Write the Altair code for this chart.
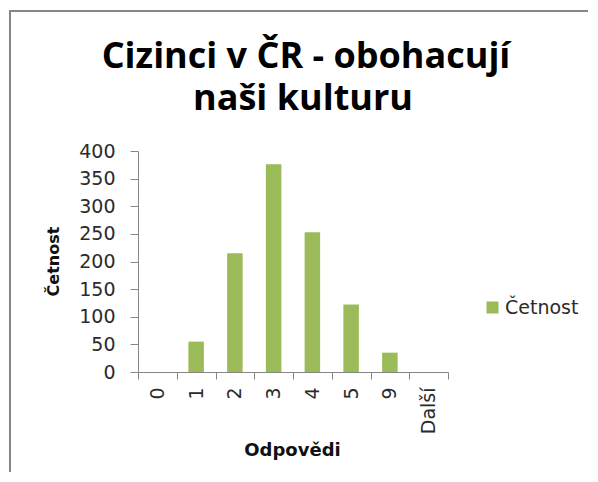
import altair as alt
import pandas as pd

categories = ["0", "1", "2", "3", "4", "5", "9", "Další"]
counts = [0, 55, 215, 376, 253, 122, 35, 0]
series_name = "Četnost"
y_ticks = [0, 50, 100, 150, 200, 250, 300, 350, 400]
title_lines = ["Cizinci v ČR - obohacují", "naši kulturu"]
x_title = "Odpovědi"
y_title = "Četnost"

df = pd.DataFrame({"odp": categories, "cetnost": counts, "series": [series_name] * len(categories)})

GRAY = "#868686"
TXT = "#2b2b2b"

bars = alt.Chart(df).mark_bar(width=alt.RelativeBandSize(0.4)).encode(
    x=alt.X("odp:N", sort=categories,
            scale=alt.Scale(paddingInner=0, paddingOuter=0),
            axis=alt.Axis(title=x_title, tickBand="extent", tickSize=7,
                          labelAngle=270, labelPadding=8,
                          labelFont="DejaVu Sans", labelFontSize=19, labelColor=TXT,
                          domainColor=GRAY, tickColor=GRAY,
                          titleFont="DejaVu Sans", titleFontSize=18, titleFontWeight="bold",
                          titleColor="#111111", titleX=154, titleY=78, titleBaseline="middle")),
    y=alt.Y("cetnost:Q", scale=alt.Scale(domain=[0, 400], nice=False),
            axis=alt.Axis(title=y_title, values=y_ticks, tickSize=8, labelPadding=15,
                          labelFont="DejaVu Sans", labelFontSize=19, labelColor=TXT,
                          domainColor=GRAY, tickColor=GRAY, grid=False,
                          titleFont="DejaVu Sans", titleFontSize=16, titleFontWeight="bold",
                          titleColor="#111111", titleAngle=270, titleX=-85, titleY=110,
                          titleBaseline="middle")),
    color=alt.Color("series:N", scale=alt.Scale(range=["#9BBB59"]),
                    legend=alt.Legend(title=None, orient="none", legendX=345, legendY=147,
                                      symbolType="square", symbolSize=144,
                                      symbolStrokeWidth=0, labelOffset=3,
                                      labelFont="DejaVu Sans", labelFontSize=19,
                                      labelColor=TXT, padding=0)),
)

one = pd.DataFrame({"a": [0]})
frame_v = alt.Chart(one).mark_rule(color=GRAY, strokeWidth=2).encode(
    x=alt.value(-128), y=alt.value(-140), y2=alt.value(330))
frame_h = alt.Chart(one).mark_rule(color=GRAY, strokeWidth=2).encode(
    x=alt.value(-129), x2=alt.value(460), y=alt.value(-140))

title1 = alt.Chart(one).mark_text(text=title_lines[0], font="Open Sans", fontSize=36,
                                  fontWeight="bold", color="#000000", align="center",
                                  baseline="alphabetic").encode(
    x=alt.value(168), y=alt.value(-83))
title2 = alt.Chart(one).mark_text(text=title_lines[1], font="Open Sans", fontSize=36,
                                  fontWeight="bold", color="#000000", align="center",
                                  baseline="alphabetic").encode(
    x=alt.value(165), y=alt.value(-41))

chart = alt.layer(bars, frame_v, frame_h, title1, title2).properties(
    width=310, height=221,
    autosize=alt.AutoSizeParams(type="none"),
    padding={"left": 130, "top": 143, "right": 140, "bottom": 100},
).configure_view(stroke=None)

chart.save("out.html", embed_options={"renderer": "svg", "actions": False})
